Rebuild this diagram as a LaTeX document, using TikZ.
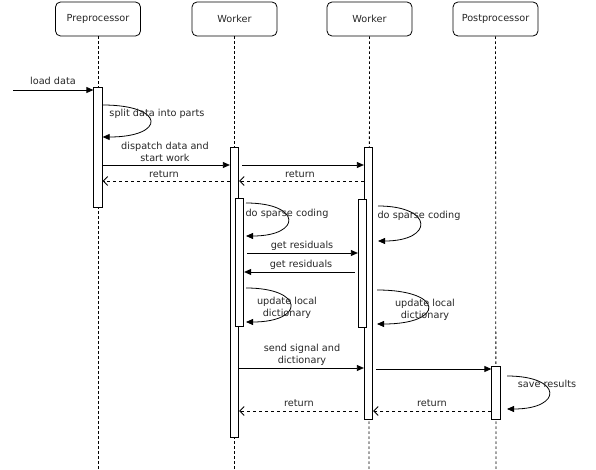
\documentclass[tikz,border=0pt]{standalone}
\usepackage{fontspec}
\setmainfont{DejaVu Sans}
\usetikzlibrary{arrows.meta}
\begin{document}
\begin{tikzpicture}[x=1pt,y=-1pt,
  every node/.style={font=\fontsize{9.7}{12}\selectfont, text=black!85},
  head/.style={draw, rounded corners=5pt, minimum width=85pt, minimum height=34pt, inner sep=0pt, line width=0.8pt},
  life/.style={line width=0.8pt, dash pattern=on 2.5pt off 2.5pt},
  act/.style={draw, fill=white, minimum width=8.5pt, inner sep=0pt, line width=0.8pt},
  msg/.style={line width=0.8pt, -{Triangle[length=7pt,width=6pt]}},
  ret/.style={line width=0.8pt, dash pattern=on 3pt off 3pt, -{Straight Barb[length=4.5pt,width=9pt]}},
  lbl/.style={align=center, inner sep=0pt}]
\useasboundingbox (0,0) rectangle (596,470);
% headers
\node[head] (hp) at (98,19) {Preprocessor};
\node[head] (hw1) at (234.5,19) {Worker};
\node[head] (hw2) at (369.5,19) {Worker};
\node[head] (hpo) at (495.5,19) {Postprocessor};
% lifeline ends
\coordinate (ep) at (98,470);
\coordinate (ew1) at (234.5,470);
\coordinate (ew2) at (369,470);
\coordinate (epo) at (496,470);
\draw[life] (hp.south) -- (ep);
\draw[life] (hw1.south) -- (ew1);
\draw[life] (hw2.south) -- (ew2);
\draw[life] (hpo.south) -- (epo);
% activations
\node[act, minimum height=120pt] (pa) at (98,147) {};
\node[act, minimum height=290pt] (w1a) at (234.5,292) {};
\node[act, minimum height=272pt] (w2a) at (368.5,283) {};
\node[act, minimum height=128pt] (w1i) at (239.5,262) {};
\node[act, minimum height=128pt] (w2i) at (362.5,263) {};
\node[act, minimum height=53pt] (poa) at (496,392.5) {};
% incoming message
\coordinate (start) at (13,90);
\draw[msg] (start) -- (pa.west |- 0,90);
\node[lbl] (l1) at (53,81) {load data};
% self loop preprocessor
\draw[msg] (pa.east |- 0,105) .. controls (166,105) and (166,137) .. (pa.east |- 0,137);
\node[lbl] (l2) at (157,114) {split data into parts};
% dispatch
\draw[msg] (pa.east |- 0,165) -- (w1a.west |- 0,165);
\node[lbl] (l3) at (165,152) {dispatch data and\\start work};
\draw[msg, shorten <=3pt] (w1a.east |- 0,165) -- (w2a.west |- 0,165);
\draw[ret] (w1a.west |- 0,181) -- (pa.east |- 0,181);
\node[lbl] (l4) at (164,174) {return};
\draw[ret] (w2a.west |- 0,181) -- (w1a.east |- 0,181);
\node[lbl] (l5) at (300,174) {return};
% sparse coding
\draw[msg] (246,203) .. controls (302,203) and (302,236) .. (246,236);
\node[lbl] (l6) at (287,214) {do sparse coding};
\draw[msg] (378,206) .. controls (434,206) and (434,241) .. (378,241);
\node[lbl] (l7) at (419,216) {do sparse coding};
% residuals
\draw[msg, shorten <=3pt] (w1i.east |- 0,253) -- (w2i.west |- 0,253);
\node[lbl] (l8) at (302,246) {get residuals};
\draw[msg, shorten <=3pt] (w2i.west |- 0,272) -- (w1i.east |- 0,272);
\node[lbl] (l9) at (301,265) {get residuals};
% update dictionary
\draw[msg] (246,288) .. controls (305,288) and (305,322) .. (246,322);
\node[lbl] (l10) at (287,308) {update local\\dictionary};
\draw[msg] (377,290) .. controls (445,290) and (445,324) .. (377,324);
\node[lbl] (l11) at (425,310) {update local\\dictionary};
% send signal
\draw[msg] (w1a.east |- 0,368) -- (w2a.west |- 0,368);
\node[lbl] (l12) at (302,355) {send signal and\\dictionary};
\draw[msg, shorten <=3pt] (w2a.east |- 0,369) -- (poa.west |- 0,369);
% save results
\draw[msg] (507,376) .. controls (563,376) and (563,409) .. (507,409);
\node[lbl] (l13) at (547,384) {save results};
% returns
\draw[ret] (poa.west |- 0,411) -- (w2a.east |- 0,411);
\node[lbl] (l14) at (432,403) {return};
\draw[ret, shorten <=6pt] (w2a.west |- 0,411) -- (w1a.east |- 0,411);
\node[lbl] (l15) at (299,403) {return};
\end{tikzpicture}
\end{document}
